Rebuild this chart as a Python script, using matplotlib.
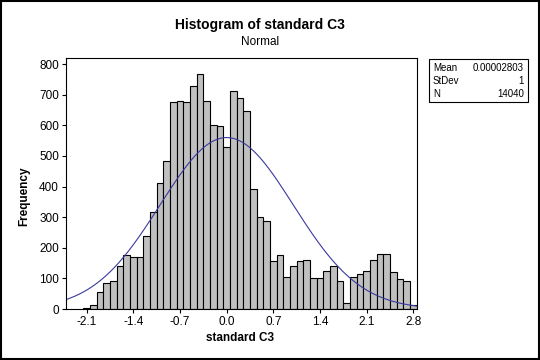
import numpy as np
import matplotlib
matplotlib.use("Agg")
import matplotlib.pyplot as plt
from matplotlib.patches import Rectangle

plt.rcParams['font.family'] = ['Liberation Sans', 'DejaVu Sans']

# bin centres (width 0.1) and frequencies
bin_centers = [round(-2.1 + 0.1 * i, 1) for i in range(50)]
counts = [3, 12, 57, 85, 92, 141, 176, 170, 170, 239,
          317, 413, 482, 676, 681, 675, 727, 769, 681, 601,
          598, 528, 711, 690, 647, 393, 302, 287, 156, 176,
          105, 139, 157, 161, 102, 100, 124, 139, 91, 20,
          103, 114, 124, 161, 179, 179, 121, 98, 90, 12]
bin_width = 0.1
mean_val = 0.00002803
std_val = 1.0
n_val = 14040
xticks = [-2.1, -1.4, -0.7, 0.0, 0.7, 1.4, 2.1, 2.8]
yticks = [0, 100, 200, 300, 400, 500, 600, 700, 800]

fig = plt.figure(figsize=(5.4, 3.6), dpi=100)
ax = fig.add_axes([66/540, 1-309/360, (417-66)/540, (309-58)/360])

ax.bar(bin_centers, counts, width=bin_width, color='#c0c0c0',
       edgecolor='black', linewidth=0.8, align='center')

xs = np.linspace(-2.41, 2.855, 400)
pdf = n_val * bin_width / (std_val * np.sqrt(2 * np.pi)) * np.exp(-0.5 * ((xs - mean_val) / std_val) ** 2)
ax.plot(xs, pdf, color='#3a3aa0', linewidth=0.8)

ax.set_xlim(-2.41, 2.855)
ax.set_ylim(0, 820)
ax.set_xticks(xticks)
ax.set_xticklabels([f"{t:.1f}" for t in xticks])
ax.set_yticks(yticks)
ax.tick_params(direction='out', length=3, width=0.8, labelsize=8.5, pad=2)
for s in ax.spines.values():
    s.set_linewidth(0.8)

fig.text(260/540, 1-25/360, "Histogram of standard C3", ha='center', va='center',
         fontsize=10, fontweight='bold')
fig.text(260/540, 1-42/360, "Normal", ha='center', va='center', fontsize=8.5)
fig.text(240/540, 1-338/360, "standard C3", ha='center', va='center',
         fontsize=8.5, fontweight='bold')
fig.text(24/540, 1-196/360, "Frequency", ha='center', va='center', rotation=90,
         fontsize=8.5, fontweight='bold')

# stats box
fig.patches.append(Rectangle((429/540, 1-102/360), (528-429)/540, (102-59)/360,
                             transform=fig.transFigure, fill=False,
                             edgecolor='black', linewidth=0.8))
rows = [("Mean", "0.00002803"), ("StDev", "1"), ("N", "14040")]
for i, (k, v) in enumerate(rows):
    y = 1 - (68 + i * 13) / 360
    fig.text(433/540, y, k, ha='left', va='center', fontsize=7)
    fig.text(524/540, y, v, ha='right', va='center', fontsize=7)

# figure frame
fig.patches.append(Rectangle((0.001, 0.002), 0.997, 0.996, transform=fig.transFigure,
                             fill=False, edgecolor='black', linewidth=1.5))

fig.savefig("out.png", dpi=100)
